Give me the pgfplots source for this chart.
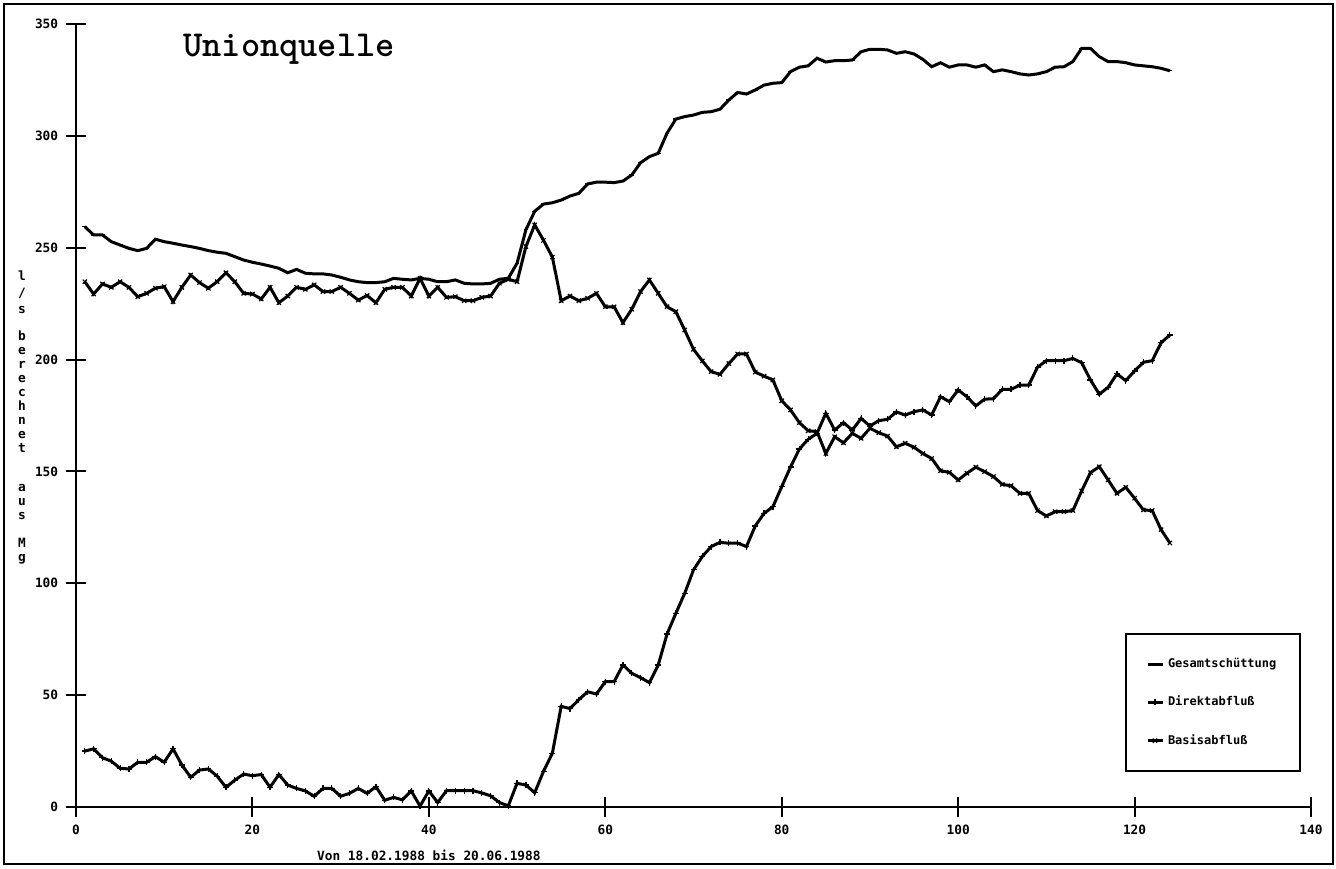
\documentclass[border=0pt]{standalone}
\usepackage{fontspec}
\usepackage{pgfplots}
\pgfplotsset{compat=1.18}
\usepackage{pgfplotstable}
\newfontfamily\monofont{DejaVu Sans Mono}
\newcommand\tickfont{\monofont\bfseries\fontsize{6.4}{7}\selectfont}
\newcommand\legfont{\monofont\bfseries\fontsize{6}{7}\selectfont}

\pgfplotstableread{
x y
1 259.4
2 255.7
3 255.7
4 252.7
5 251.2
6 249.7
7 248.7
8 249.7
9 253.8
10 252.7
11 252.0
12 251.2
13 250.5
14 249.7
15 248.7
16 248.0
17 247.5
18 246.0
19 244.5
20 243.5
21 242.7
22 241.8
23 240.8
24 238.8
25 240.3
26 238.6
27 238.3
28 238.3
29 237.8
30 236.8
31 235.6
32 234.8
33 234.4
34 234.4
35 234.8
36 236.3
37 235.9
38 235.6
39 236.3
40 235.9
41 234.8
42 234.8
43 235.6
44 234.1
45 233.8
46 233.8
47 234.1
48 235.9
49 236.3
50 243.1
51 258.0
52 266.3
53 269.5
54 270.1
55 271.3
56 273.1
57 274.3
58 278.5
59 279.3
60 279.3
61 279.1
62 279.8
63 282.5
64 288.0
65 290.7
66 292.2
67 301.2
68 307.5
69 308.6
70 309.3
71 310.5
72 310.8
73 311.9
74 316.0
75 319.4
76 318.7
77 320.5
78 322.7
79 323.5
80 323.8
81 328.7
82 330.7
83 331.3
84 334.7
85 333.0
86 333.6
87 333.6
88 333.9
89 337.6
90 338.7
91 338.7
92 338.4
93 336.9
94 337.6
95 336.6
96 334.2
97 330.9
98 332.7
99 330.7
100 331.7
101 331.7
102 330.7
103 331.7
104 328.7
105 329.5
106 328.7
107 327.7
108 327.2
109 327.7
110 328.7
111 330.7
112 330.9
113 333.2
114 339.1
115 339.1
116 335.4
117 333.2
118 333.2
119 332.7
120 331.7
121 331.3
122 330.9
123 330.2
124 329.1
}\gesamt

\pgfplotstableread{
x y
1 25.0
2 26.0
3 22.0
4 20.5
5 17.3
6 17.0
7 20.0
8 20.0
9 22.5
10 20.0
11 26.0
12 18.8
13 13.3
14 16.5
15 17.0
16 13.8
17 8.8
18 12.0
19 14.7
20 14.0
21 14.5
22 8.8
23 14.5
24 9.8
25 8.3
26 7.2
27 4.8
28 8.3
29 8.3
30 4.8
31 6.1
32 8.3
33 6.1
34 9.1
35 3.0
36 4.3
37 3.2
38 7.2
39 0.4
40 7.2
41 2.0
42 7.3
43 7.3
44 7.3
45 7.3
46 6.3
47 5.0
48 2.0
49 0.5
50 10.6
51 9.8
52 6.4
53 16.0
54 24.0
55 45.0
56 44.0
57 48.0
58 51.5
59 50.5
60 56.0
61 56.0
62 63.5
63 59.8
64 57.8
65 55.6
66 63.5
67 77.3
68 86.6
69 95.5
70 106.0
71 112.0
72 116.4
73 118.3
74 117.9
75 118.0
76 116.4
77 125.6
78 131.3
79 134.2
80 143.2
81 152.0
82 160.0
83 164.4
84 167.0
85 176.0
86 168.5
87 171.8
88 168.5
89 173.7
90 170.3
91 172.7
92 173.3
93 176.6
94 175.2
95 176.7
96 177.5
97 175.2
98 183.4
99 181.2
100 186.4
101 183.4
102 179.3
103 182.3
104 182.5
105 186.7
106 186.7
107 188.6
108 188.6
109 196.6
110 199.5
111 199.5
112 199.5
113 200.5
114 198.6
115 190.9
116 184.5
117 187.6
118 193.6
119 190.6
120 194.9
121 198.8
122 199.5
123 207.5
124 211.0
}\direkt

\pgfplotstableread{
x y
1 234.8
2 229.3
3 233.8
4 232.3
5 234.8
6 232.3
7 228.1
8 229.6
9 231.9
10 232.6
11 225.9
12 232.3
13 237.8
14 234.4
15 231.9
16 234.8
17 238.8
18 234.8
19 229.6
20 229.3
21 227.1
22 232.3
23 225.4
24 228.4
25 232.3
26 231.4
27 233.4
28 230.4
29 230.4
30 232.3
31 229.6
32 226.6
33 228.6
34 225.4
35 231.4
36 232.3
37 232.3
38 228.4
39 236.3
40 228.4
41 232.3
42 227.8
43 228.1
44 226.3
45 226.3
46 227.8
47 228.4
48 234.1
49 235.9
50 234.8
51 250.5
52 260.2
53 253.3
54 245.8
55 226.3
56 228.4
57 226.3
58 227.4
59 229.6
60 223.6
61 223.6
62 216.5
63 222.5
64 230.4
65 235.6
66 229.6
67 223.6
68 221.4
69 213.2
70 204.6
71 199.4
72 194.6
73 193.4
74 198.2
75 202.5
76 202.5
77 194.4
78 192.6
79 190.9
80 181.6
81 177.5
82 171.8
83 168.2
84 167.8
85 158.0
86 165.5
87 162.8
88 167.0
89 164.8
90 169.3
91 167.3
92 165.8
93 161.0
94 162.6
95 160.8
96 158.0
97 155.8
98 150.3
99 149.6
100 146.2
101 149.2
102 151.9
103 149.9
104 147.7
105 144.2
106 143.6
107 140.2
108 140.2
109 132.5
110 130.1
111 132.0
112 132.0
113 132.5
114 141.3
115 149.5
116 152.1
117 146.2
118 140.2
119 142.9
120 138.0
121 132.8
122 132.5
123 124.0
124 118.0
}\basis

\begin{document}
\begin{tikzpicture}
\useasboundingbox (-38pt,-30.5pt) rectangle (630pt,403.5pt);
\draw[line width=1pt] (-36pt,-28.5pt) rectangle (628.5pt,401.5pt);
\begin{axis}[
  at={(0pt,0pt)}, anchor=south west,
  scale only axis, width=617.5pt, height=391.5pt,
  xmin=0, xmax=140, ymin=0, ymax=350,
  xtick={0,20,...,140}, ytick={0,50,...,350},
  axis x line*=bottom, axis y line*=left,
  axis line style={-, line width=1.2pt},
  tick align=center, major tick length=10pt,
  every tick/.style={black, line width=1pt},
  minor tick num=0,
  /pgf/number format/assume math mode=true,
  ticklabel style={font=\tickfont},
  xticklabel shift=0.6pt, yticklabel shift=0.4pt,
  clip=false,
  legend style={at={(rel axis cs:0.8494,0.2222)}, anchor=north west,
    draw=black, line width=1pt, font=\legfont,
    inner xsep=10pt, inner ysep=10pt, row sep=8.8pt},
  legend cell align=left,
  legend image code/.code={\draw[mark repeat=2,mark phase=2,#1] plot coordinates {(0pt,0pt) (3.75pt,0pt) (7.5pt,0pt)};},
]
\addplot[black, line width=1.5pt, mark=-, mark size=1.2pt, mark options={line width=0.6pt}] table[x=x,y=y] {\gesamt};
\addlegendentry{Gesamtschüttung}
\addplot[black, line width=1.5pt, mark=+, mark size=1.5pt, mark options={line width=0.6pt}] table[x=x,y=y] {\direkt};
\addlegendentry{Direktabfluß}
\addplot[black, line width=1.5pt, mark=x, mark size=1.5pt, mark options={line width=0.6pt}] table[x=x,y=y] {\basis};
\addlegendentry{Basisabfluß}
\node[font=\tickfont, anchor=center] at (axis cs:40,0) [yshift=-24pt] {Von 18.02.1988 bis 20.06.1988};
\end{axis}
\node[anchor=base west, font=\ttfamily\bfseries\fontsize{18.3}{22}\selectfont, inner sep=0pt] at (53.5pt,375pt) {Unionquelle};
\node[anchor=north, font=\tickfont, inner sep=0pt] at (-27pt,268.5pt)
  {\begin{tabular}{@{}c@{}}l\\[1.5pt]/\\[1pt]s\\[6.8pt]b\\e\\r\\e\\c\\h\\n\\e\\t\\[12.5pt]a\\u\\s\\[6.8pt]M\\g\end{tabular}};
\end{tikzpicture}
\end{document}
